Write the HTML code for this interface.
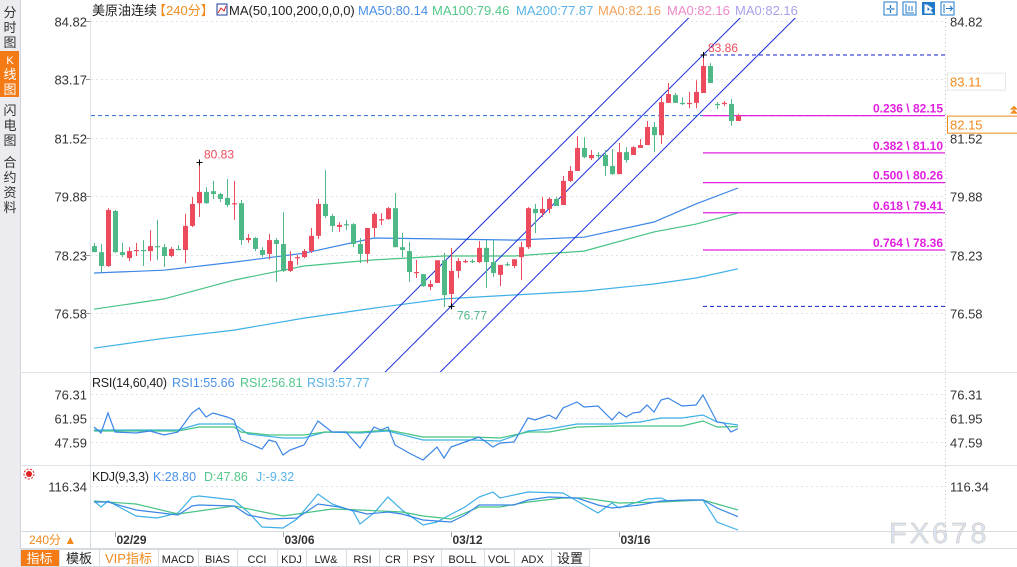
<!DOCTYPE html>
<html><head><meta charset="utf-8">
<style>
body{margin:0;width:1017px;height:567px;overflow:hidden;background:#fff;font-family:"Liberation Sans","Noto Sans CJK SC",sans-serif;}
svg{position:absolute;left:0;top:0;}
text{font-family:"Liberation Sans","Noto Sans CJK SC",sans-serif;}
</style></head>
<body>
<svg id="chart" width="1017" height="567" viewBox="0 0 1017 567">
<defs>
<clipPath id="mainclip"><rect x="90" y="18" width="855" height="354"/></clipPath>
<clipPath id="rsiclip"><rect x="90" y="375" width="855" height="90"/></clipPath>
<clipPath id="kdjclip"><rect x="90" y="468" width="855" height="63"/></clipPath>
</defs>
<!-- sidebar -->
<rect x="0" y="0" width="20" height="567" fill="#ececf0"/>
<line x1="20.5" y1="0" x2="20.5" y2="548" stroke="#d0d4da"/>
<g><text x="10" y="17" font-size="13" text-anchor="middle" fill="#333">分</text><text x="10" y="32" font-size="13" text-anchor="middle" fill="#333">时</text><text x="10" y="47" font-size="13" text-anchor="middle" fill="#333">图</text></g>
<g><rect x="0" y="51" width="19" height="46" fill="#f47a15"/><text x="10" y="64" font-size="11" text-anchor="middle" fill="#fff">K</text><text x="10" y="79" font-size="13" text-anchor="middle" fill="#fff">线</text><text x="10" y="94" font-size="13" text-anchor="middle" fill="#fff">图</text></g>
<g><text x="10" y="115" font-size="13" text-anchor="middle" fill="#333">闪</text><text x="10" y="130" font-size="13" text-anchor="middle" fill="#333">电</text><text x="10" y="145" font-size="13" text-anchor="middle" fill="#333">图</text></g>
<g><text x="10" y="167" font-size="13" text-anchor="middle" fill="#333">合</text><text x="10" y="182" font-size="13" text-anchor="middle" fill="#333">约</text><text x="10" y="197" font-size="13" text-anchor="middle" fill="#333">资</text><text x="10" y="212" font-size="13" text-anchor="middle" fill="#333">料</text></g>

<!-- header legend -->
<g font-size="13">
<text x="92" y="15" fill="#222">美原油连续</text>
<text x="153" y="15" fill="#f08a1e">【240分】</text>
<rect x="217" y="4" width="10" height="11" fill="#fff" stroke="#1a3a9a"/>
<polyline points="218,13 221,8 224,11 226,6" fill="none" stroke="#d22" stroke-width="1"/>
<text x="229" y="15" fill="#222">MA(50,100,200,0,0,0)</text>
<text x="358" y="15" fill="#4a90e8">MA50:80.14</text>
<text x="432" y="15" fill="#55c78a">MA100:79.46</text>
<text x="516" y="15" fill="#5ab4e6">MA200:77.87</text>
<text x="598" y="15" fill="#f3a25a">MA0:82.16</text>
<text x="667" y="15" fill="#ef88c8">MA0:82.16</text>
<text x="735" y="15" fill="#a7a2ec">MA0:82.16</text>
</g>
<g>
<rect x="884" y="2" width="13" height="13" fill="#fff" stroke="#1f78c8"/>
<text x="890.5" y="13" font-size="11" text-anchor="middle" fill="#1f78c8">✛</text>
<rect x="903" y="2" width="13" height="13" fill="#fff" stroke="#1f78c8"/>
<path d="M906 4v9h8M909 6v5M912 6v5" stroke="#1f78c8" fill="none"/>
<rect x="922" y="2" width="13" height="13" fill="#1f78c8"/>
<path d="M925 4v9h8M927 5l5 3.5-5 3.5z" stroke="#fff" fill="#fff"/>
<rect x="941" y="2" width="13" height="13" fill="#fff" stroke="#1f78c8"/>
<path d="M944 4v9M946 8.5h6M950 6l2.5 2.5-2.5 2.5" stroke="#1f78c8" fill="none"/>
</g>

<!-- frames -->
<line x1="90.5" y1="18" x2="90.5" y2="548" stroke="#dde2e8"/>
<line x1="945.5" y1="18" x2="945.5" y2="531" stroke="#bbb" stroke-dasharray="1,3"/>
<line x1="20" y1="372.5" x2="1017" y2="372.5" stroke="#dde3ea"/>
<line x1="20" y1="465.5" x2="1017" y2="465.5" stroke="#dde3ea"/>
<line x1="20" y1="531.5" x2="1017" y2="531.5" stroke="#d6dbe1"/>
<line x1="20" y1="548.5" x2="1017" y2="548.5" stroke="#d6dbe1"/>

<g id="grid"></g>
<g id="main" clip-path="url(#mainclip)"></g>
<g id="labels"></g>
<g id="rsi" clip-path="url(#rsiclip)"></g>
<g id="kdj" clip-path="url(#kdjclip)"></g>
<g id="axes"></g>

<!-- RSI / KDJ legends -->
<g font-size="12.5">
<text x="92" y="387" fill="#222" textLength="75">RSI(14,60,40)</text>
<text x="172" y="387" fill="#4a90e8">RSI1:55.66</text>
<text x="240" y="387" fill="#55c78a">RSI2:56.81</text>
<text x="307" y="387" fill="#5ab4e6">RSI3:57.77</text>
</g>
<g font-size="12.5">
<text x="92" y="481" fill="#222" textLength="57">KDJ(9,3,3)</text>
<text x="153" y="481" fill="#4a90e8">K:28.80</text>
<text x="204" y="481" fill="#55c78a">D:47.86</text>
<text x="256" y="481" fill="#5ab4e6">J:-9.32</text>
</g>
<g>
<circle cx="29" cy="474" r="3" fill="#e02020"/><circle cx="29" cy="474" r="5" fill="none" stroke="#e02020" stroke-width="1" stroke-dasharray="2,1.5"/>
</g>

<!-- watermark -->
<text x="889" y="543" font-size="29" fill="#d8e5f4" stroke="#c9b8a8" stroke-width="0.4" letter-spacing="3">FX678</text>

<!-- period selector -->
<g>
<text x="29" y="544" font-size="12" fill="#f08a1e">240分 ▲</text>
</g>
<line x1="90.5" y1="531" x2="90.5" y2="548" stroke="#d6dbe1"/>

<!-- bottom tabs -->
<g id="tabs" font-size="12"></g>
</svg>
<script>
// ---- data ----
const opens  = [78.47,78.30,77.91,79.46,78.30,78.13,78.33,78.36,78.33,78.47,78.44,78.19,78.39,78.36,79.04,79.68,80.00,80.02,79.94,79.83,79.66,79.68,78.64,78.70,78.36,78.25,78.64,78.53,77.77,78.13,78.16,78.33,78.76,79.66,79.32,79.01,79.09,79.09,78.53,78.25,78.98,79.21,79.23,79.54,78.44,78.33,77.71,77.68,77.32,77.43,78.07,77.12,77.77,78.02,78.05,78.02,78.42,78.02,77.66,77.96,77.91,78.16,78.44,79.52,79.40,79.52,79.80,79.63,80.31,80.59,81.24,80.95,81.04,81.04,80.73,80.50,81.12,81.04,81.24,81.32,81.83,81.60,82.51,82.73,82.51,82.48,82.51,82.79,83.55,82.48,82.48,82.48,82.00];
const highs  = [78.56,78.53,79.54,79.49,78.56,78.44,78.56,78.64,78.92,79.21,78.53,78.44,78.50,79.38,79.85,80.79,80.13,80.31,79.97,80.36,80.31,79.77,78.81,78.73,78.44,78.81,78.70,79.43,78.33,78.22,78.39,78.98,79.80,80.61,79.38,79.15,79.21,79.12,78.70,78.98,79.43,79.40,79.57,79.97,78.84,78.59,78.08,77.68,77.51,78.07,78.28,78.42,78.13,78.10,78.10,78.61,78.64,78.64,77.94,78.02,78.10,78.59,79.57,79.66,79.85,79.85,79.85,80.45,80.73,81.57,81.54,81.18,81.12,81.18,81.21,81.38,81.26,81.29,81.49,82.00,81.97,82.67,83.07,82.79,82.67,82.82,83.15,83.86,83.63,82.53,82.56,82.62,82.20];
const lows   = [78.30,77.74,77.88,78.28,78.16,78.05,78.19,77.91,78.05,78.07,77.88,78.16,78.36,77.99,79.01,79.29,79.66,79.80,79.71,79.57,79.21,78.50,78.56,78.33,78.16,78.10,77.46,77.74,77.74,77.94,78.13,78.28,78.67,79.26,78.87,78.87,78.92,78.44,77.99,77.99,78.73,79.07,79.21,78.44,78.16,77.46,77.57,77.32,77.23,77.43,76.75,76.77,77.57,77.99,77.99,77.99,77.29,77.60,77.34,77.91,77.85,77.51,78.39,78.84,79.29,79.40,79.60,79.63,80.28,80.59,80.95,80.90,80.95,80.45,80.48,80.50,80.82,81.04,81.24,81.32,81.12,81.35,82.51,82.51,82.45,82.36,82.36,82.79,83.07,82.33,82.42,81.86,82.00];
const closes = [78.30,77.91,79.49,78.30,78.22,78.33,78.36,78.33,78.47,78.44,78.19,78.39,78.36,79.04,79.66,80.00,79.68,79.94,79.80,79.63,79.68,78.64,78.70,78.39,78.22,78.64,78.53,77.77,78.05,78.16,78.33,78.76,79.66,79.32,79.04,79.07,79.07,78.53,78.25,78.98,79.38,79.23,79.54,78.44,78.36,77.74,77.74,77.34,77.40,78.07,77.09,77.77,78.05,78.05,78.02,78.42,78.02,77.71,77.94,77.94,78.10,78.44,79.54,79.40,79.52,79.80,79.60,80.31,80.59,81.24,80.98,81.04,81.01,80.73,80.50,81.12,80.90,81.26,81.32,81.83,81.60,82.53,82.76,82.51,82.48,82.51,82.82,83.55,83.07,82.45,82.51,82.00,82.15];

const maIdx = [0,10,20,30,40,50,60,70,80,86,92];
const ma50  = [77.71,77.79,78.02,78.27,78.70,78.67,78.64,78.72,79.15,79.66,80.11];
const ma100 = [76.69,76.98,77.51,77.91,78.08,78.19,78.19,78.33,78.87,79.09,79.40];
const ma200 = [75.59,75.87,76.10,76.44,76.72,76.98,77.09,77.20,77.40,77.57,77.83];

const priceTicks = [84.82,83.17,81.52,79.88,78.23,76.58];
const fibRatios = ["0.236","0.382","0.500","0.618","0.764"];
const fibPrices = [82.15,81.10,80.26,79.41,78.36];
const swingLowIdx = 51, swingLow = 76.77;
const swingHighIdx = 87, swingHigh = 83.86;
const prevHighIdx = 15, prevHigh = 80.83;
const channelUpperOffset = 1.45;
const channelLowerOffset = -1.55;
const lastPrice = 82.15, refPrice = 83.11;

const dateIdx = [3,27,51,75];
const dateLabels = ["02/29","03/06","03/12","03/16"];

const rsiTicks = [76.31,61.95,47.59];
const rsi1Idx = [0,1,2,3,6,8,10,12,14,15,16,17,19,20,21,22,24,25,26,27,28,30,32,34,36,38,40,41,42,43,45,47,49,50,51,53,55,57,58,60,62,63,65,66,67,69,70,72,74,75,76,77,78,79,80,81,82,84,86,87,89,90,91,92];
const rsi1 = [56.56,52.97,64.94,53.57,52.97,54.17,51.78,53.57,64.94,67.93,62.55,64.94,62.55,60.75,48.78,46.99,43.40,48.78,47.59,39.81,42.80,45.79,60.15,53.57,53.57,44.00,56.56,54.77,56.56,45.79,41.00,36.81,44.59,38.01,44.59,47.59,50.58,44.59,46.99,47.59,61.95,60.75,63.74,61.35,67.93,71.52,68.53,69.13,60.75,65.54,62.55,64.94,65.54,69.73,65.54,72.72,73.92,69.13,69.73,75.71,59.55,58.96,53.57,55.66];
const rsi2Idx = [0,12,15,20,21,25,30,33,38,42,47,54,58,62,65,69,75,84,87,89,92];
const rsi2 = [54.17,54.17,56.56,56.56,53.57,51.78,51.78,53.57,53.57,54.77,50.58,50.58,49.98,53.57,53.57,56.56,57.16,57.16,60.15,56.56,56.81];
const rsi3Idx = [0,12,15,20,22,27,30,33,38,42,47,54,58,62,65,69,74,78,81,84,87,89,92];
const rsi3 = [54.77,54.77,58.36,58.36,52.38,49.98,49.98,53.57,52.97,54.17,48.78,48.78,48.18,54.17,55.37,58.36,58.36,59.55,61.95,61.95,63.74,59.55,57.77];

const kIdx = [0,2,6,12,14,15,20,22,25,29,32,35,39,42,44,47,51,53,55,58,60,62,65,69,72,74,78,81,85,87,89,92];
const kVals = [70.7,70.7,47.9,33.6,59.3,62.1,59.3,33.6,22.1,25.0,65.0,56.4,36.4,42.1,36.4,19.3,13.6,33.6,62.1,62.1,62.1,76.4,85.0,82.1,62.1,53.6,62.1,73.6,76.4,76.4,53.6,28.8];
const dIdx = [0,6,12,20,27,34,38,44,47,51,55,58,62,67,70,75,81,87,92];
const dVals = [73.6,65.0,36.4,59.3,30.7,50.7,47.9,42.1,30.7,22.1,56.4,56.4,70.7,82.1,82.1,67.9,70.7,76.4,47.86];
const jIdx = [0,1,2,6,9,12,14,15,20,22,24,27,29,32,34,37,38,40,42,44,47,49,50,53,55,57,58,62,67,70,72,74,75,79,81,82,84,87,89,92];
const jVals = [73.6,56.4,73.6,30.7,25.0,39.3,85.0,87.9,76.4,42.1,-0.7,-3.6,22.1,93.6,65.0,45.0,7.9,39.3,85.0,47.9,5.0,13.6,25.0,56.4,85.0,99.3,82.1,99.3,96.4,62.1,39.3,67.9,53.6,79.3,82.1,73.6,76.4,76.4,13.6,-9.32];
const kdjTop = 116.34;

const tabNames = ["指标","模板","VIP指标","MACD","BIAS","CCI","KDJ","LW&","RSI","CR","PSY","BOLL","VOL","ADX","设置"];

// ---- scales ----
const NS="http://www.w3.org/2000/svg";
const X = i => 94 + i*7;
const Y = p => 21 + (84.82 - p)*35.45;
const RY = v => 394 + (76.31 - v)*1.671;
const KY = v => 526.75 - 0.35*v;
const RED="#ec4b5d", GREEN="#4fb887";
function mk(tag, attrs, parent){const e=document.createElementNS(NS,tag);for(const k in attrs)e.setAttribute(k,attrs[k]);parent.appendChild(e);return e;}
const main=document.getElementById('main'), grid=document.getElementById('grid'), labels=document.getElementById('labels'), axes=document.getElementById('axes');

// grid + axis labels
priceTicks.forEach(p=>{
  const y=Math.round(Y(p))+0.5;
  const g=mk('line',{x1:91,y1:y,x2:945,y2:y,stroke:'#e2e2e2','stroke-dasharray':'2,3'},grid);
  
  
  const t=mk('text',{x:87,y:y+5,'font-size':13,'text-anchor':'end',fill:'#333'},axes);
  t.textContent=p.toFixed(2);
  
  
  const t2=mk('text',{x:950,y:y+5,'font-size':13,fill:'#333'},axes);
  t2.textContent=p.toFixed(2);
  
  
  mk('line',{x1:86,y1:y,x2:90,y2:y,stroke:'#999'},axes);
});
rsiTicks.forEach(v=>{
  const y=Math.round(RY(v))+0.5;
  mk('line',{x1:91,y1:y,x2:945,y2:y,stroke:'#e2e2e2','stroke-dasharray':'2,3'},grid);
  const t=mk('text',{x:87,y:y+5,'font-size':13,'text-anchor':'end',fill:'#333'},axes);
  t.textContent=v.toFixed(2);
  
  
  const t2=mk('text',{x:950,y:y+5,'font-size':13,fill:'#333'},axes);
  t2.textContent=v.toFixed(2);
  
  
});
{
  const y=Math.round(KY(kdjTop))+0.5;
  mk('line',{x1:91,y1:y,x2:945,y2:y,stroke:'#e2e2e2','stroke-dasharray':'2,3'},grid);
  const t=mk('text',{x:87,y:y+5,'font-size':13,'text-anchor':'end',fill:'#333'},axes);
  t.textContent=kdjTop.toFixed(2);
  
  
  const t2=mk('text',{x:950,y:y+5,'font-size':13,fill:'#333'},axes);
  t2.textContent=kdjTop.toFixed(2);
  
  
}

// MAs
function poly(idx, vals, sy, color, parent, name){
  const pts=idx.map((i,k)=>X(i)+','+sy(vals[k]).toFixed(1)).join(' ');
  const l=mk('polyline',{points:pts,fill:'none',stroke:color,'stroke-width':1.2},parent);
  
  
}
poly(maIdx,ma200,Y,'#3fb0e8',main,'ma200-line');
poly(maIdx,ma100,Y,'#47c383',main,'ma100-line');
poly(maIdx,ma50,Y,'#3b86e6',main,'ma50-line');

// horizontal dashed lines
const lastY=Y(lastPrice);
{const l=mk('line',{x1:91,y1:lastY,x2:945,y2:lastY,stroke:'#2b6fd6','stroke-dasharray':'4,3'},main);

}
{const l=mk('line',{x1:X(swingHighIdx),y1:Y(swingHigh),x2:945,y2:Y(swingHigh),stroke:'#1020d0','stroke-dasharray':'4,3'},main);

}
{const l=mk('line',{x1:X(swingHighIdx),y1:Y(swingLow),x2:945,y2:Y(swingLow),stroke:'#1020d0','stroke-dasharray':'4,3'},main);

}
fibPrices.forEach((p,k)=>{
  const y=Y(p);
  const l=mk('line',{x1:X(swingHighIdx),y1:y,x2:945,y2:y,stroke:'#e21ee0','stroke-width':1.3},main);
  
  
  const t=mk('text',{x:943,y:y-3,'font-size':12,'font-weight':'bold','text-anchor':'end',fill:'#e21ee0'},labels);
  t.textContent=fibRatios[k]+' \\ '+p.toFixed(2);
  
  
});

// channel
const slope=(Y(swingHigh)-Y(swingLow))/(X(swingHighIdx)-X(swingLowIdx));
function chan(off, name, dash){
  const y0=Y(swingLow+off), x0=X(swingLowIdx);
  const xa=x0+(380-y0)/slope, xb=x0+(10-y0)/slope;
  const l=mk('line',{x1:xa,y1:380,x2:xb,y2:10,stroke:'#1a2ee0','stroke-width':1},main);
  if(dash) l.setAttribute('stroke-dasharray',dash);
  
  
}
chan(channelUpperOffset,'channel-upper-line');
chan(0,'channel-middle-line');
chan(channelLowerOffset,'channel-lower-line');

// candles
opens.forEach((o,i)=>{
  const c=closes[i], up=c>=o, col=up?RED:GREEN, x=X(i);
  const g=mk('g',{},main);
  
  
  mk('line',{x1:x+0.5,y1:Y(highs[i]),x2:x+0.5,y2:Y(lows[i]),stroke:col,'stroke-width':1},g);
  const yt=Y(Math.max(o,c)), yb=Y(Math.min(o,c));
  mk('rect',{x:x-2,y:yt,width:5,height:Math.max(1.2,yb-yt),fill:col},g);
});

// markers
function cross(i,p){const x=X(i)+0.5,y=Y(p);mk('path',{d:`M${x-3} ${y}h6M${x} ${y-3}v6`,stroke:'#000','stroke-width':1},main);}
cross(swingHighIdx,swingHigh);cross(swingLowIdx,swingLow);cross(prevHighIdx,prevHigh);
{const t=mk('text',{x:X(swingHighIdx)+5,y:Y(swingHigh)-3,'font-size':12,fill:'#ec4b5d'},labels);t.textContent=swingHigh.toFixed(2);

}
{const t=mk('text',{x:X(prevHighIdx)+5,y:Y(prevHigh)-4,'font-size':12,fill:'#ec4b5d'},labels);t.textContent=prevHigh.toFixed(2);

}
{const t=mk('text',{x:X(swingLowIdx)+6,y:Y(swingLow)+13,'font-size':12,fill:'#4fb887'},labels);t.textContent=swingLow.toFixed(2);

}

// right price boxes
{const y=Y(refPrice);
const r=mk('rect',{x:947.5,y:y-8.5,width:58,height:17,fill:'#fff',stroke:'#e6e6e6'},axes);


const t=mk('text',{x:950,y:y+5,'font-size':13,fill:'#f08a1e'},axes);t.textContent=refPrice.toFixed(2);}
{const y=Y(lastPrice)+9;
const r=mk('rect',{x:947.5,y:y-8.5,width:70,height:17,fill:'#fff',stroke:'#f08a1e'},axes);


const t=mk('text',{x:950,y:y+5,'font-size':13,fill:'#f08a1e'},axes);t.textContent=lastPrice.toFixed(2);
mk('path',{d:`M1010 ${y-11}l4 -4 4 4zM1010 ${y-15}l4 -4 4 4z`,fill:'#f08a1e'},axes);}

// RSI
const rsiG=document.getElementById('rsi');
poly(rsi3Idx,rsi3,RY,'#3fb0e8',rsiG,'rsi3-line');
poly(rsi2Idx,rsi2,RY,'#47c383',rsiG,'rsi2-line');
poly(rsi1Idx,rsi1,RY,'#3b86e6',rsiG,'rsi1-line');
// KDJ
const kdjG=document.getElementById('kdj');
poly(jIdx,jVals,KY,'#3fb0e8',kdjG,'kdj-j-line');
poly(dIdx,dVals,KY,'#47c383',kdjG,'kdj-d-line');
poly(kIdx,kVals,KY,'#3b86e6',kdjG,'kdj-k-line');

// dates
dateIdx.forEach((i,k)=>{
  const x=X(i)+0.5;
  mk('line',{x1:x,y1:532,x2:x,y2:537,stroke:'#aaa'},axes);
  const t=mk('text',{x:x+1,y:544,'font-size':12,'font-weight':'bold',fill:'#333'},axes);
  t.textContent=dateLabels[k];
  
  
});

// tabs
const tabEdges=[20,59,99,158,198,237,277,306,346,379,407,441,484,514,551,589];
const tabs=document.getElementById('tabs');
tabNames.forEach((n,k)=>{
  const x0=tabEdges[k], x1=tabEdges[k+1];
  const g=mk('g',{},tabs);
  
  
  mk('rect',{x:x0+0.5,y:549.5,width:x1-x0,height:17,fill:k===0?'#f47a15':'#fff',stroke:'#d6dbe1'},g);
  const t=mk('text',{x:(x0+x1)/2,y:563,'text-anchor':'middle','font-size':k<3||k===14?13:11,fill:k===0?'#fff':(k===2?'#f08a1e':'#222'),'font-family':k<3||k===14?'"Liberation Sans","Noto Sans CJK SC",sans-serif':'"Liberation Mono",monospace'},g);
  t.textContent=n;
});
</script>
</body></html>
